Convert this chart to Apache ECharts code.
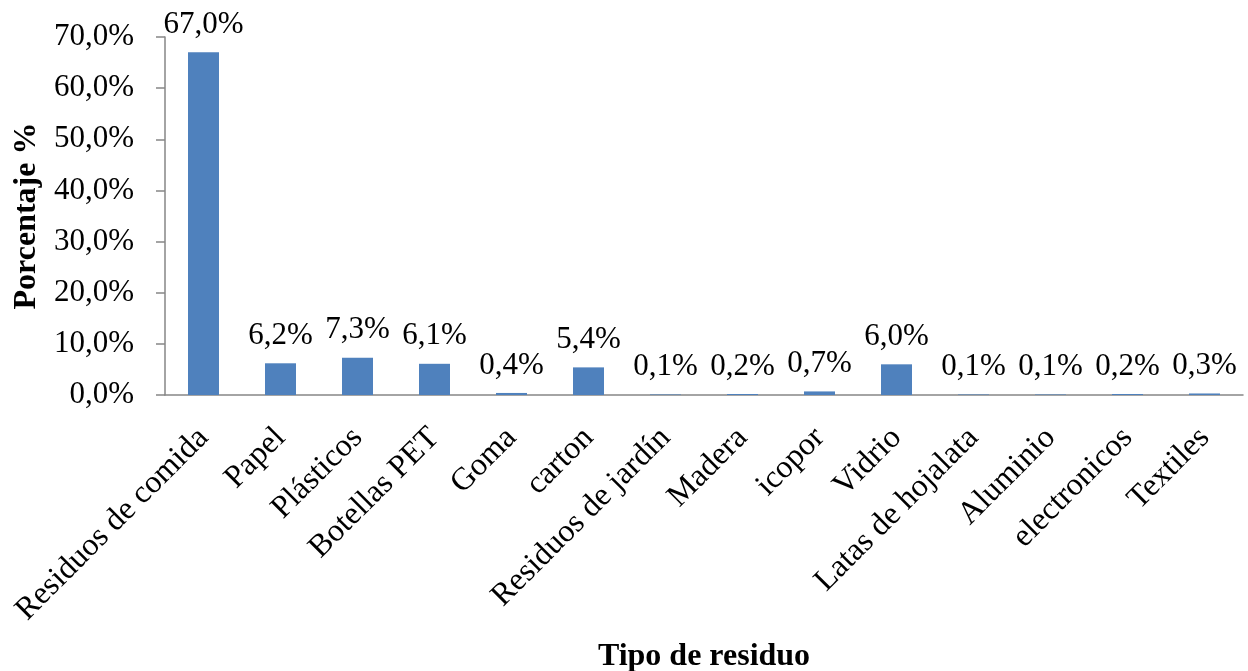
<!DOCTYPE html>
<html>
<head>
<meta charset="utf-8">
<title>Tipo de residuo</title>
<script src="https://cdn.jsdelivr.net/npm/echarts@6/dist/echarts.min.js"></script>
<style>
  html, body { margin: 0; padding: 0; background: #fff; }
  #chart { width: 1248px; height: 671px; }
</style>
</head>
<body>
<div id="chart"></div>
<script>
// categorias y porcentajes
const categorias = ['Residuos de comida', 'Papel', 'Plásticos', 'Botellas PET', 'Goma', 'carton',
  'Residuos de jardín', 'Madera', 'icopor', 'Vidrio', 'Latas de hojalata', 'Aluminio', 'electronicos', 'Textiles'];
const porcentajes = [67.0, 6.2, 7.3, 6.1, 0.4, 5.4, 0.1, 0.2, 0.7, 6.0, 0.1, 0.1, 0.2, 0.3];

const fuente = "'Liberation Serif', 'Times New Roman', serif";
const gris = '#868686';
const fmt = v => v.toFixed(1).replace('.', ',') + '%';

const chart = echarts.init(document.getElementById('chart'));
chart.setOption({
  animation: false,
  textStyle: { fontFamily: fuente },
  grid: { left: 165, right: 5, top: 37, bottom: 276, containLabel: false, outerBoundsMode: 'none' },
  xAxis: {
    type: 'category',
    data: categorias,
    name: 'Tipo de residuo',
    nameLocation: 'middle',
    nameGap: 246,
    nameTextStyle: { fontFamily: fuente, fontSize: 32, fontWeight: 'bold', color: '#000' },
    axisLine: { lineStyle: { color: gris, width: 1.5 } },
    axisTick: { length: 9, lineStyle: { color: gris, width: 1.5 } },
    axisLabel: { rotate: 45, interval: 0, margin: 38, fontFamily: fuente, fontSize: 32, color: '#000' }
  },
  yAxis: {
    type: 'value',
    min: 0,
    max: 70,
    interval: 10,
    name: 'Porcentaje %',
    nameLocation: 'middle',
    nameGap: 117,
    nameRotate: 90,
    nameTextStyle: { fontFamily: fuente, fontSize: 32, fontWeight: 'bold', color: '#000' },
    axisLine: { show: true, lineStyle: { color: gris, width: 1.5 } },
    axisTick: { show: true, length: 9, lineStyle: { color: gris, width: 1.5 } },
    splitLine: { show: false },
    axisLabel: { margin: 31, fontFamily: fuente, fontSize: 31, color: '#000', formatter: fmt }
  },
  series: [{
    type: 'bar',
    data: porcentajes,
    barWidth: 31,
    itemStyle: { color: '#4F81BD' },
    label: {
      show: true,
      position: 'top',
      distance: 12,
      fontFamily: fuente,
      fontSize: 31,
      color: '#000',
      formatter: p => fmt(p.value)
    }
  }]
});
</script>
</body>
</html>
